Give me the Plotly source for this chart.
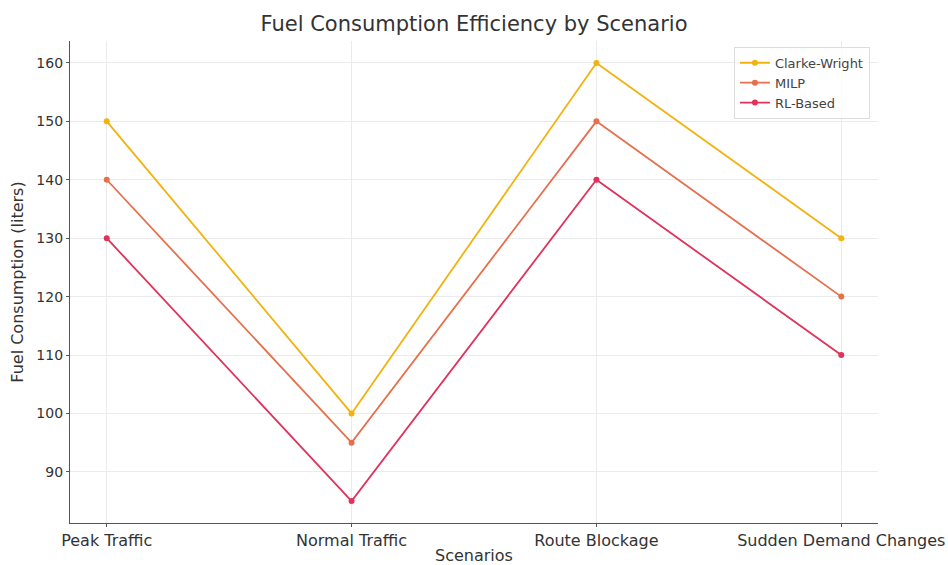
import plotly.graph_objects as go

scenarios = ["Peak Traffic", "Normal Traffic", "Route Blockage", "Sudden Demand Changes"]
clarke_wright = [150, 100, 160, 130]
milp = [140, 95, 150, 120]
rl_based = [130, 85, 140, 110]

series = [
    ("Clarke-Wright", clarke_wright, "#F2B20F"),
    ("MILP", milp, "#E6704C"),
    ("RL-Based", rl_based, "#E0325C"),
]

fig = go.Figure()
for name, vals, color in series:
    fig.add_trace(go.Scatter(
        x=list(range(len(scenarios))), y=vals, name=name, mode="lines+markers",
        line=dict(color=color, width=1.8),
        marker=dict(color=color, size=6),
    ))

fig.update_layout(
    width=948, height=565,
    paper_bgcolor="white", plot_bgcolor="white",
    font=dict(family="DejaVu Sans", color="#333333"),
    margin=dict(l=70, r=70, t=41, b=42, autoexpand=False),
    title=dict(text="Fuel Consumption Efficiency by Scenario", x=0.5, xanchor="center",
               y=1 - 24 / 565, yanchor="middle", font=dict(size=21, color="#333333")),
    showlegend=True,
    legend=dict(x=0.990, y=0.988, xanchor="right", yanchor="top",
                bgcolor="rgba(255,255,255,0.8)", bordercolor="#dddddd", borderwidth=1,
                font=dict(size=13, color="#444444"), itemwidth=30, tracegroupgap=0),
)
fig.update_xaxes(
    tickmode="array", tickvals=list(range(len(scenarios))), ticktext=scenarios,
    range=[-0.15, 3.15], showgrid=True, gridcolor="#ebebeb", gridwidth=1,
    showline=True, linecolor="#555555", linewidth=1.2, ticks="outside", ticklen=3,
    tickcolor="#555555", tickfont=dict(size=16, color="#333333"), zeroline=False,
    automargin=False,
    title=dict(text="Scenarios", font=dict(size=16, color="#333333"), standoff=3),
)
fig.update_yaxes(
    range=[81.25, 163.75], tickvals=[90, 100, 110, 120, 130, 140, 150, 160],
    showgrid=True, gridcolor="#ebebeb", gridwidth=1,
    showline=True, linecolor="#555555", linewidth=1.2, ticks="outside", ticklen=3,
    tickcolor="#555555", tickfont=dict(size=14, color="#333333"), zeroline=False,
    automargin=False,
    title=dict(text="Fuel Consumption (liters)", font=dict(size=16, color="#333333"), standoff=8),
)

fig.write_html("out.html")
